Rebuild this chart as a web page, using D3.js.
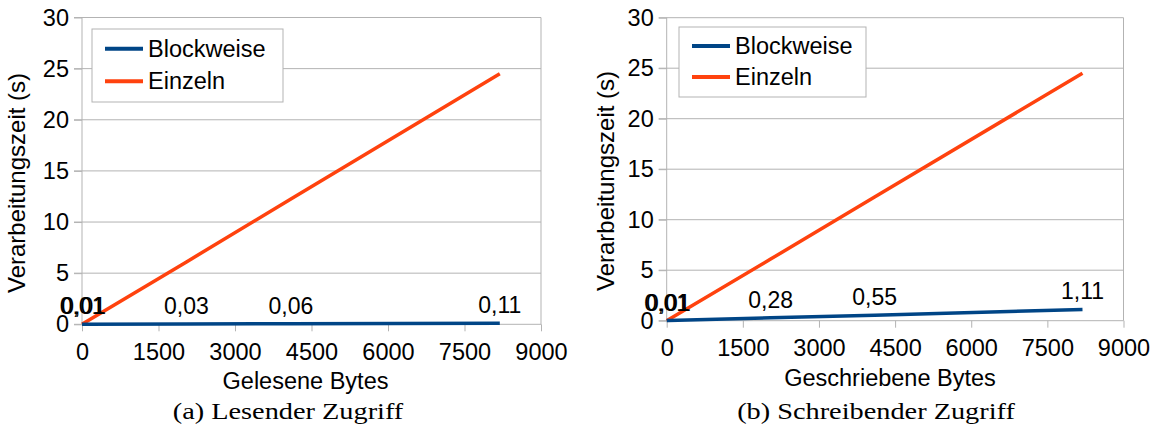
<!DOCTYPE html>
<meta charset="utf-8">

<!-- Load d3.js -->
<script src="https://d3js.org/d3.v7.min.js"></script>

<div id="chart"></div>

<style>
body {
    margin: 0;
    background: #fff;
}
text {
    font-family: "Liberation Sans", Arial, sans-serif;
    fill: #000;
}
.tick line {
    stroke: #b3b3b3;
}
.tick text {
    font-size: 23.5px;
}
.caption {
    font-family: "Liberation Serif", "Times New Roman", serif;
    font-size: 24px;
}
</style>
<script>
// Data
var bytes = [1, 32, 2048, 4096, 8192];
var lesenBlockweise = [0.01, 0.01, 0.03, 0.06, 0.11];
var lesenEinzeln = [0.003, 0.1, 6.1, 12.25, 24.5];
var schreibenBlockweise = [0.01, 0.01, 0.28, 0.55, 1.11];
var schreibenEinzeln = [0.003, 0.1, 6.1, 12.25, 24.5];

var xTicks = [0, 1500, 3000, 4500, 6000, 7500, 9000];
var yTicks = [0, 5, 10, 15, 20, 25, 30];
var seriesNames = ["Blockweise", "Einzeln"];
var seriesColors = ["#004586", "#ff420e"];

var svg = d3.select("#chart")
    .append("svg")
    .attr("width", 1152)
    .attr("height", 432);

function lineChart(c, blockweise, einzeln) {
    var x = d3.scaleLinear().domain([0, 9000]).range([c.x0, c.x1]);
    var y = d3.scaleLinear().domain([0, 30]).range([c.y0, c.yTop]);

    var g = svg.append("g");

    // horizontal gridlines (including the tick stubs left of the axis)
    g.selectAll(".grid")
        .data(yTicks)
        .enter()
        .append("line")
        .attr("x1", c.x0 - 8)
        .attr("x2", c.x1)
        .attr("y1", function(d) { return y(d); })
        .attr("y2", function(d) { return y(d); })
        .attr("stroke", "#b3b3b3")
        .attr("stroke-width", 1);

    // y axis labels
    g.append("g")
        .attr("transform", "translate(" + c.x0 + ",0)")
        .call(d3.axisLeft(y).tickValues(yTicks).tickFormat(d3.format("d")).tickSize(8).tickPadding(5))
        .call(g => g.select(".domain").remove());

    // x axis ticks + labels
    g.append("g")
        .attr("transform", "translate(0," + c.y0 + ")")
        .call(d3.axisBottom(x).tickValues(xTicks).tickFormat(d3.format("d")).tickSize(7).tickPadding(12))
        .call(g => g.select(".domain").remove());

    // left axis line and right frame
    [0, 9000].forEach(function(v) {
        g.append("line")
            .attr("x1", x(v)).attr("x2", x(v))
            .attr("y1", y(30)).attr("y2", y(0))
            .attr("stroke", "#b3b3b3");
    });

    // lines
    var line = d3.line()
        .x(function(d) { return x(d[0]); })
        .y(function(d) { return y(d[1]); });

    var series = [blockweise, einzeln];
    [1, 0].forEach(function(i) {
        g.append("path")
            .datum(d3.zip(bytes, series[i]))
            .attr("d", line)
            .attr("fill", "none")
            .attr("stroke", seriesColors[i])
            .attr("stroke-width", 3.5);
    });

    // value labels for Blockweise
    g.selectAll(".lbl")
        .data(d3.zip(bytes, blockweise))
        .enter()
        .append("text")
        .attr("x", function(d) { return x(d[0]); })
        .attr("y", function(d) { return y(d[1]) - 10; })
        .attr("text-anchor", "middle")
        .style("font-size", "23px")
        .text(function(d) { return d3.format(".2f")(d[1]).replace(".", ","); });

    // legend
    g.append("rect")
        .attr("x", c.lx).attr("y", c.ly)
        .attr("width", c.lw).attr("height", c.lh)
        .attr("fill", "#fff")
        .attr("stroke", "#b3b3b3");

    seriesNames.forEach(function(name, i) {
        var cy = c.ly + c.lh * (0.27 + i * 0.445);
        g.append("line")
            .attr("x1", c.lx + 13).attr("x2", c.lx + 51)
            .attr("y1", cy).attr("y2", cy)
            .attr("stroke", seriesColors[i])
            .attr("stroke-width", 4);
        g.append("text")
            .attr("x", c.lx + 56)
            .attr("y", cy + 8)
            .style("font-size", "23.5px")
            .text(name);
    });

    // axis titles
    g.append("text")
        .attr("transform", "translate(" + c.ytx + "," + c.yty + ") rotate(-90)")
        .attr("text-anchor", "middle")
        .style("font-size", "24px")
        .text("Verarbeitungszeit (s)");

    g.append("text")
        .attr("x", c.xtx)
        .attr("y", c.xty)
        .attr("text-anchor", "middle")
        .style("font-size", "23.5px")
        .text(c.xTitle);

    // caption
    g.append("g")
        .attr("transform", "translate(" + c.capx + ",419) scale(1.18,1)")
        .append("text")
        .attr("class", "caption")
        .attr("text-anchor", "middle")
        .text(c.caption);
}

lineChart({x0: 82, x1: 541, y0: 324.3, yTop: 17.5,
    lx: 92, ly: 29, lw: 191, lh: 73,
    ytx: 25, yty: 183, xtx: 305.5, xty: 389.3,
    xTitle: "Gelesene Bytes", capx: 288, caption: "(a) Lesender Zugriff"},
    lesenBlockweise, lesenEinzeln);

lineChart({x0: 666.7, x1: 1123.5, y0: 320.7, yTop: 17.7,
    lx: 679, ly: 27, lw: 187, lh: 70,
    ytx: 614, yty: 181, xtx: 890, xty: 386,
    xTitle: "Geschriebene Bytes", capx: 876, caption: "(b) Schreibender Zugriff"},
    schreibenBlockweise, schreibenEinzeln);
</script>
